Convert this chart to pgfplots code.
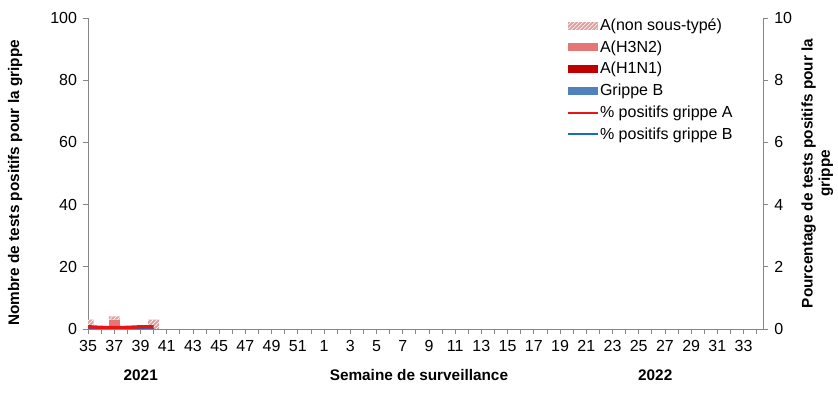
\documentclass[border=0pt]{standalone}
\usepackage{fontspec}
\setmainfont{Liberation Sans}
\usepackage{pgfplots}
\pgfplotsset{compat=1.18}
\usetikzlibrary{patterns}
\definecolor{axgray}{RGB}{134,134,134}
\definecolor{hatchc}{RGB}{228,160,160}
\definecolor{hthree}{RGB}{228,118,118}
\definecolor{hone}{RGB}{192,0,0}
\definecolor{fluB}{RGB}{79,129,189}
\definecolor{lineA}{RGB}{235,20,20}
\definecolor{lineB}{RGB}{20,110,185}
\begin{document}
\begin{tikzpicture}
\pgfplotsset{
  common/.style={
    scale only axis, width=506pt, height=233pt,
    xmin=0, xmax=51.5,
    axis line style={axgray, line width=0.6pt},
    tick style={axgray, line width=0.6pt},
    tick align=outside,
    major tick length=3.75pt, minor tick length=3.75pt,
    ticklabel style={font=\fontsize{12}{14}\selectfont},
    /pgf/number format/assume math mode=true,
    clip mode=individual,
  }
}
\begin{axis}[common,
  ymin=0, ymax=100,
  ybar stacked, bar width=8.3pt,
  axis y line*=left, axis x line*=bottom,
  xtick={0,2,...,50},
  xticklabels={35,37,39,41,43,45,47,49,51,1,3,5,7,9,11,13,15,17,19,21,23,25,27,29,31,33},
  minor xtick={1,3,...,51},
  ytick={0,20,...,100},
  yticklabel style={xshift=-1pt},
  xticklabel style={yshift=-1pt},
  xlabel={\bfseries Semaine de surveillance},
  xlabel style={at={(axis description cs:0.49,-0.148)}, anchor=center, font=\fontsize{11.5}{13}\selectfont},
  ylabel={\bfseries Nombre de tests positifs pour la grippe},
  ylabel style={at={(axis description cs:-0.108,0.47)}, rotate=0, anchor=center, font=\fontsize{11.5}{13}\selectfont},
]
% Grippe B
\addplot+[fill=fluB, draw=none] coordinates {(0,0) (1,0) (2,0) (3,0) (4,0) (5,0)};
% A(H1N1)
\addplot+[fill=hone, draw=none] coordinates {(0,0) (1,0) (2,0) (3,0) (4,1) (5,0)};
% A(H3N2)
\addplot+[fill=hthree, draw=none] coordinates {(0,0) (1,0) (2,3) (3,0) (4,0) (5,0)};
% A(non sous-type)
\addplot+[fill=hatchc, draw=none, postaction={pattern=north east lines, pattern color=white}] coordinates {(0,3) (1,0) (2,1) (3,0) (4,0) (5,3)};
\node[font=\bfseries\fontsize{11.5}{13}\selectfont] at (axis description cs:0.078,-0.148) {2021};
\node[font=\bfseries\fontsize{11.5}{13}\selectfont] at (axis description cs:0.84,-0.148) {2022};
\end{axis}
\begin{axis}[common,
  ymin=0, ymax=10,
  axis y line*=right, axis x line=none,
  ytick={0,2,...,10},
  yticklabel style={xshift=1pt},
  ylabel={\bfseries Pourcentage de tests positifs pour la\\ \bfseries grippe},
  ylabel style={at={(axis description cs:1.08,0.5)}, rotate=0, anchor=center, align=center, font=\fontsize{11.5}{13}\selectfont},
  legend style={at={(axis description cs:0.957,1.003)}, anchor=north east, draw=none, fill=none,
    font=\fontsize{12}{14}\selectfont, row sep=4.1pt, inner sep=0pt,
    nodes={inner sep=1pt, anchor=west}},
  legend cell align=left,
]
\addlegendimage{draw=none, legend image code/.code={\fill[hatchc, draw=none] (0pt,-3pt) rectangle (22pt,3pt); \fill[pattern=north east lines, pattern color=white, draw=none] (0pt,-3pt) rectangle (22pt,3pt);}}
\addlegendentry{A(non sous-typé)}
\addlegendimage{draw=none, legend image code/.code={\fill[hthree, draw=none] (0pt,-3pt) rectangle (22pt,3pt);}}
\addlegendentry{A(H3N2)}
\addlegendimage{draw=none, legend image code/.code={\fill[hone, draw=none] (0pt,-3pt) rectangle (22pt,3pt);}}
\addlegendentry{A(H1N1)}
\addlegendimage{draw=none, legend image code/.code={\fill[fluB, draw=none] (0pt,-3pt) rectangle (22pt,3pt);}}
\addlegendentry{Grippe B}
\addlegendimage{legend image code/.code={\draw[lineA, line width=1.6pt] (0pt,0pt) -- (22pt,0pt);}}
\addlegendentry{\% positifs grippe A}
\addlegendimage{legend image code/.code={\draw[lineB, line width=1.6pt] (0pt,0pt) -- (22pt,0pt);}}
\addlegendentry{\% positifs grippe B}
\addplot[forget plot, lineB, line width=2pt] coordinates {(0,0) (1,0) (2,0) (3,0) (4,0) (5,0)};
\addplot[forget plot, lineA, line width=2.5pt] coordinates {(0,0.07) (1,0.05) (2,0.04) (3,0.05) (4,0.07) (5,0.07)};
\end{axis}
\pgfresetboundingbox
\path (-66pt,-48pt) rectangle (562pt,246.5pt);
\end{tikzpicture}
\end{document}
